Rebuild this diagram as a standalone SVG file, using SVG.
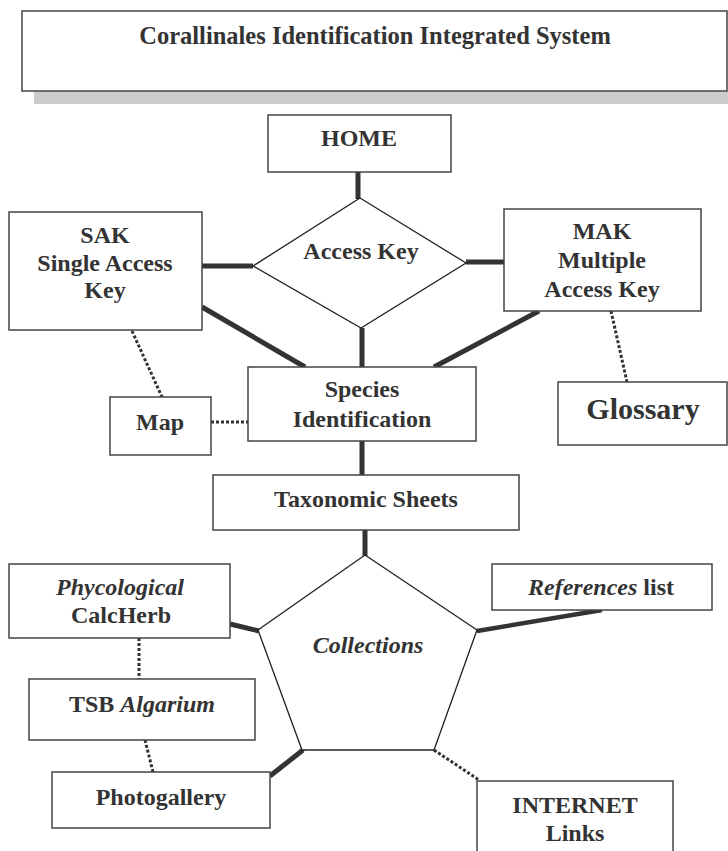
<svg xmlns="http://www.w3.org/2000/svg" width="728" height="851" viewBox="0 0 728 851">
<style>
.box{fill:#fff;stroke:#444;stroke-width:1.5}
.shape{fill:#fff;stroke:#222;stroke-width:1.3}
.t{font-family:"Liberation Serif","Times New Roman",serif;font-weight:bold;font-size:24px;fill:#333;text-anchor:middle}
.i{font-style:italic}
.thick{stroke:#333;stroke-width:5;fill:none}
.dot{stroke:#333;stroke-width:3;stroke-dasharray:3 2;fill:none}
</style>
<rect x="0" y="0" width="728" height="851" fill="#fff"/>
<g id="title">
<rect x="34" y="91" width="694" height="13" fill="#ccc"/>
<rect class="box" x="22" y="11" width="705" height="80"/>
<text class="t" x="375" y="44" style="font-size:24.5px">Corallinales Identification Integrated System</text>
</g>
<g id="connectors">
<line class="thick" x1="358" y1="172" x2="358" y2="199"/>
<line class="thick" x1="202" y1="266" x2="253" y2="266"/>
<line class="thick" x1="466" y1="262" x2="504" y2="262"/>
<line class="thick" x1="202" y1="307" x2="305" y2="367"/>
<line class="thick" x1="362" y1="328" x2="362" y2="367"/>
<line class="thick" x1="539" y1="311" x2="434" y2="367"/>
<line class="thick" x1="362" y1="441" x2="362" y2="475"/>
<line class="thick" x1="365" y1="530" x2="365" y2="556"/>
<line class="thick" x1="230" y1="624" x2="259" y2="631"/>
<line class="thick" x1="270" y1="776" x2="303" y2="750"/>
<line class="thick" x1="477" y1="631" x2="602" y2="610" style="stroke-width:4.5"/>
<line class="dot" x1="132" y1="331" x2="162" y2="397"/>
<line class="dot" x1="211" y1="422" x2="248" y2="422"/>
<line class="dot" x1="611" y1="311" x2="627" y2="382"/>
<line class="dot" x1="139" y1="638" x2="139" y2="679"/>
<line class="dot" x1="145" y1="740" x2="153" y2="772"/>
<line class="dot" x1="434" y1="750" x2="479" y2="780"/>
</g>
<g id="home">
<rect class="box" x="268" y="115" width="183" height="57"/>
<text class="t" x="359" y="146">HOME</text>
</g>
<g id="access-key">
<polygon class="shape" points="360,198 466,263 361,328 253,266"/>
<text class="t" x="361" y="259">Access Key</text>
</g>
<g id="sak">
<rect class="box" x="9" y="212" width="193" height="118"/>
<text class="t" x="105" y="243">SAK</text>
<text class="t" x="105" y="271">Single Access</text>
<text class="t" x="105" y="298">Key</text>
</g>
<g id="mak">
<rect class="box" x="504" y="209" width="197" height="102"/>
<text class="t" x="602" y="239">MAK</text>
<text class="t" x="602" y="268">Multiple</text>
<text class="t" x="602" y="297">Access Key</text>
</g>
<g id="species">
<rect class="box" x="248" y="367" width="228" height="74"/>
<text class="t" x="362" y="397">Species</text>
<text class="t" x="362" y="427">Identification</text>
</g>
<g id="map">
<rect class="box" x="110" y="397" width="101" height="58"/>
<text class="t" x="160" y="430">Map</text>
</g>
<g id="glossary">
<rect class="box" x="558" y="382" width="169" height="63"/>
<text class="t" x="643" y="419" style="font-size:30px">Glossary</text>
</g>
<g id="taxonomic-sheets">
<rect class="box" x="213" y="475" width="306" height="55"/>
<text class="t" x="366" y="507">Taxonomic Sheets</text>
</g>
<g id="collections">
<polygon class="shape" points="365,555 477,630 434,750 302,750 258,630"/>
<text class="t i" x="368" y="653">Collections</text>
</g>
<g id="phycological">
<rect class="box" x="9" y="564" width="221" height="74"/>
<text class="t i" x="120" y="595">Phycological</text>
<text class="t" x="121" y="623">CalcHerb</text>
</g>
<g id="tsb-algarium">
<rect class="box" x="29" y="679" width="226" height="61"/>
<text class="t" x="142" y="712">TSB <tspan class="i">Algarium</tspan></text>
</g>
<g id="photogallery">
<rect class="box" x="52" y="772" width="218" height="56"/>
<text class="t" x="161" y="805">Photogallery</text>
</g>
<g id="references">
<rect class="box" x="492" y="564" width="220" height="46"/>
<text class="t" x="601" y="595"><tspan class="i">References</tspan> list</text>
</g>
<g id="internet">
<rect class="box" x="477" y="781" width="196" height="90"/>
<text class="t" x="575" y="813">INTERNET</text>
<text class="t" x="575" y="841">Links</text>
</g>
</svg>
